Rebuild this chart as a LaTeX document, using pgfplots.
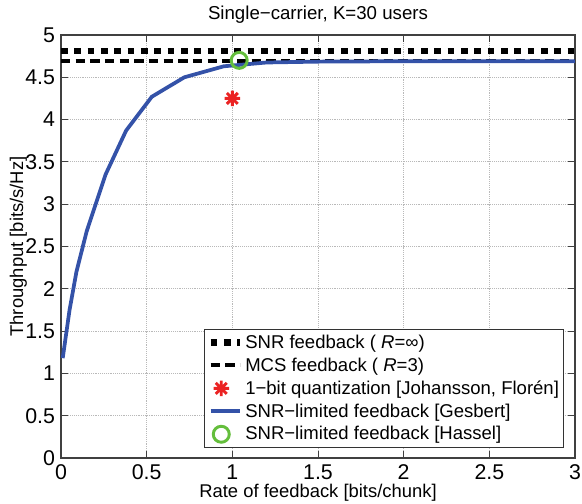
\documentclass[border=0pt]{standalone}
\usepackage{pgfplots}
\pgfplotsset{compat=1.18}
\usepackage{fontspec}
\setmainfont{Liberation Sans}
\definecolor{mblue}{RGB}{52,82,168}
\definecolor{mgreen}{RGB}{100,190,60}
\definecolor{mred}{RGB}{235,35,35}
\newcommand\tlf{\fontsize{16}{18}\selectfont}
\pgfdeclareplotmark{mstar}{%
  \pgfpathmoveto{\pgfqpoint{-\pgfplotmarksize}{0pt}}\pgfpathlineto{\pgfqpoint{\pgfplotmarksize}{0pt}}%
  \pgfpathmoveto{\pgfqpoint{0pt}{-\pgfplotmarksize}}\pgfpathlineto{\pgfqpoint{0pt}{\pgfplotmarksize}}%
  \pgfpathmoveto{\pgfqpoint{-0.707\pgfplotmarksize}{-0.707\pgfplotmarksize}}\pgfpathlineto{\pgfqpoint{0.707\pgfplotmarksize}{0.707\pgfplotmarksize}}%
  \pgfpathmoveto{\pgfqpoint{-0.707\pgfplotmarksize}{0.707\pgfplotmarksize}}\pgfpathlineto{\pgfqpoint{0.707\pgfplotmarksize}{-0.707\pgfplotmarksize}}%
  \pgfusepathqstroke}
\pgfplotsset{
  longline/.style={legend image code/.code={\draw[##1] (0pt,0pt) -- (22pt,0pt);}},
  markleg/.style={legend image code/.code={\draw[##1] plot coordinates {(8pt,0pt)};}},
}
\begin{document}
\begin{tikzpicture}
\begin{axis}[
  scale only axis, width=385.5pt, height=317.25pt,
  xmin=0, xmax=3, ymin=0, ymax=5,
  xtick={0,0.5,1,1.5,2,2.5,3},
  ytick={0,0.5,1,1.5,2,2.5,3,3.5,4,4.5,5},
  xticklabels={\tlf 0,\tlf 0.5,\tlf 1,\tlf 1.5,\tlf 2,\tlf 2.5,\tlf 3},
  yticklabels={\tlf 0,\tlf 0.5,\tlf 1,\tlf 1.5,\tlf 2,\tlf 2.5,\tlf 3,\tlf 3.5,\tlf 4,\tlf 4.5,\tlf 5},
  grid=major, grid style={densely dotted, gray!55, line width=0.6pt},
  tick align=inside, major tick length=5pt,
  axis line style={line width=0.8pt, black!75},
  tick style={black!75, line width=0.6pt},
  xticklabel style={anchor=base, yshift=-16pt, inner ysep=0pt},
  yticklabel style={xshift=-1pt},
  label style={font=\fontsize{13.8}{16}\selectfont},
  title style={font=\fontsize{14}{16}\selectfont, at={(axis description cs:0.5,1)}, anchor=base, yshift=5.25pt},
  title={Single−carrier, K=30 users},
  xlabel={Rate of feedback [bits/chunk]},
  ylabel={Throughput [bits/s/Hz]},
  xlabel style={at={(axis description cs:0.5,0)}, anchor=base, yshift=-29.5pt, inner ysep=0pt},
  ylabel style={at={(axis description cs:-0.083,0.5)}, anchor=center},
  legend cell align=left,
  legend style={at={(0.979,0.024)}, anchor=south east, font=\fontsize{13.9}{16}\selectfont,
    draw=black!80, line width=0.8pt, row sep=1.6pt, inner xsep=2pt, inner ysep=2pt,
    nodes={inner xsep=1.5pt}},
]
\addplot[black, line width=5pt, dash pattern=on 5pt off 5pt, longline] coordinates {(0,4.81) (3,4.81)};
\addlegendentry{SNR feedback ( \textit{R}=∞)}
\addplot[black, line width=3pt, dash pattern=on 7pt off 4pt, longline] coordinates {(0,4.695) (3,4.695)};
\addlegendentry{MCS feedback ( \textit{R}=3)}
\addplot[only marks, mark=mstar, mark size=5.8pt, mred, line width=2.2pt, markleg] coordinates {(1.0,4.25)};
\addlegendentry{1−bit quantization [Johansson, Florén]}
\addplot[mblue, line width=2.8pt, longline] coordinates {
(0.01,1.18) (0.05,1.75) (0.09,2.2) (0.15,2.68) (0.26,3.35) (0.38,3.87)
(0.53,4.27) (0.72,4.50) (0.95,4.63) (1.2,4.675) (1.5,4.685) (2,4.69) (3,4.69)};
\addlegendentry{SNR−limited feedback [Gesbert]}
\addplot[only marks, mark=o, mark size=6pt, mgreen, line width=2.2pt, markleg] coordinates {(1.04,4.70)};
\addlegendentry{SNR−limited feedback [Hassel]}
\end{axis}
\pgfresetboundingbox
\path[use as bounding box] ([xshift=-45.75pt,yshift=-34.5pt]current axis.south west) rectangle ([xshift=5.25pt,yshift=26.25pt]current axis.north east);
\end{tikzpicture}
\end{document}
